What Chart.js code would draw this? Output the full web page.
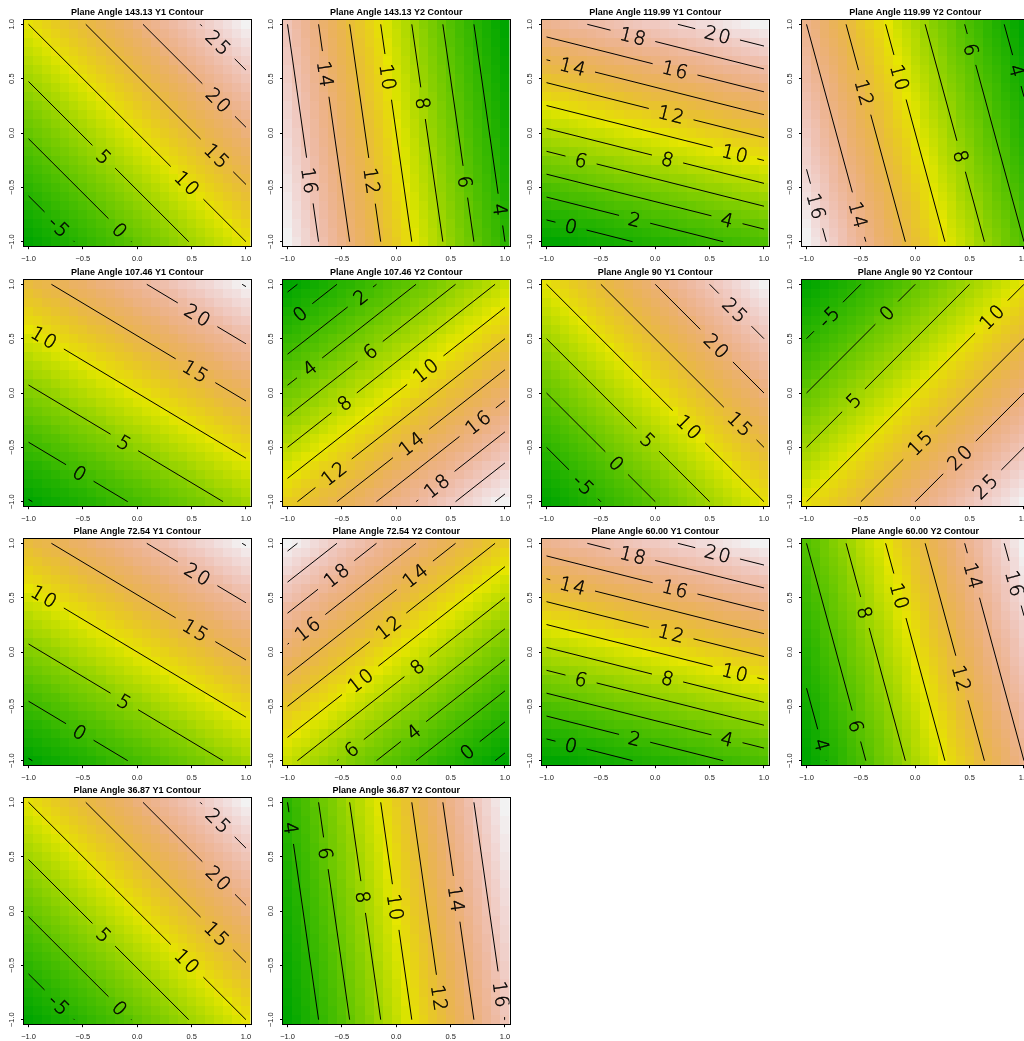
<!DOCTYPE html>
<html>
<head>
<meta charset="utf-8">
<script src="https://cdn.jsdelivr.net/npm/chart.js@4/dist/chart.umd.min.js"></script>
<style>
  html, body { margin: 0; padding: 0; background: #ffffff; }
  #wrap { position: relative; width: 1024px; height: 1041px; overflow: hidden; background: #ffffff; }
  #wrap canvas { position: absolute; }
</style>
</head>
<body>
<div id="wrap"></div>
<script>
// ---- data -----------------------------------------------------------------
const titles = [
  'Plane Angle 143.13 Y1 Contour', 'Plane Angle 143.13 Y2 Contour',
  'Plane Angle 119.99 Y1 Contour', 'Plane Angle 119.99 Y2 Contour',
  'Plane Angle 107.46 Y1 Contour', 'Plane Angle 107.46 Y2 Contour',
  'Plane Angle 90 Y1 Contour',     'Plane Angle 90 Y2 Contour',
  'Plane Angle 72.54 Y1 Contour',  'Plane Angle 72.54 Y2 Contour',
  'Plane Angle 60.00 Y1 Contour',  'Plane Angle 60.00 Y2 Contour',
  'Plane Angle 36.87 Y1 Contour',  'Plane Angle 36.87 Y2 Contour'
];

// each response surface is a plane: z = intercept + slopeX * x + slopeY * y
const intercept = [10, 10, 10, 10, 10, 10, 10, 10, 10, 10, 10, 10, 10, 10];
const slopeX    = [9.5, -7, 2.4, -5.5, 5.7, 5.5, 10, 10, 5.7, -5.5, 2.4, 5.5, 9.5, 7];
const slopeY    = [9.5, -1, 9.5, -1.5, 9.5, -7, 10, -10, 9.5, 7, 9.5, 1.5, 9.5, 1];

// contour levels drawn in each panel
const contourLevels = [
  [-5, 0, 5, 10, 15, 20, 25],
  [4, 6, 8, 10, 12, 14, 16],
  [0, 2, 4, 6, 8, 10, 12, 14, 16, 18, 20],
  [4, 6, 8, 10, 12, 14, 16],
  [-5, 0, 5, 10, 15, 20, 25],
  [-2, 0, 2, 4, 6, 8, 10, 12, 14, 16, 18, 20, 22],
  [-5, 0, 5, 10, 15, 20, 25],
  [-5, 0, 5, 10, 15, 20, 25],
  [-5, 0, 5, 10, 15, 20, 25],
  [-2, 0, 2, 4, 6, 8, 10, 12, 14, 16, 18, 20, 22],
  [0, 2, 4, 6, 8, 10, 12, 14, 16, 18, 20],
  [4, 6, 8, 10, 12, 14, 16],
  [-5, 0, 5, 10, 15, 20, 25],
  [4, 6, 8, 10, 12, 14, 16]
];

// where each contour carries its label: [level, x, y] (snapped onto the line)
const labelSpots = [
  [[25, 0.728, 0.815], [20, 0.75, 0.305], [15, 0.735, -0.204], [10, 0.457, -0.46], [5, -0.309, -0.22], [0, -0.167, -0.9], [-5, -0.73, -0.87]],
  [[16, -0.84, -0.444], [14, -0.654, 0.543], [12, -0.253, -0.444], [10, -0.105, 0.512], [8, 0.231, 0.272], [6, 0.617, -0.451], [4, 0.944, -0.707]],
  [[18, -0.207, 0.889], [20, 0.571, 0.898], [14, -0.762, 0.605], [16, 0.179, 0.574], [12, 0.142, 0.157], [10, 0.728, -0.204], [6, -0.685, -0.259], [8, 0.108, -0.259], [2, -0.191, -0.799], [4, 0.657, -0.809], [0, -0.778, -0.87]],
  [[16, -0.923, -0.676], [14, -0.529, -0.753], [12, -0.468, 0.373], [10, -0.145, 0.512], [8, 0.425, -0.213], [6, 0.502, 0.765], [4, 0.932, 0.574]],
  [[20, 0.537, 0.69], [15, 0.509, 0.16], [10, -0.848, 0.53], [5, -0.11, -0.44], [0, -0.507, -0.70]],
  [[0, -0.886, 0.728], [2, -0.33, 0.883], [4, -0.793, 0.225], [6, -0.238, 0.38], [8, -0.485, -0.083], [10, 0.272, 0.204], [12, -0.577, -0.738], [14, 0.133, -0.46], [16, 0.741, -0.259], [18, 0.364, -0.846]],
  [[25, 0.732, 0.762], [20, 0.557, 0.429], [15, 0.76, -0.303], [10, 0.29, -0.331], [5, -0.079, -0.442], [0, -0.356, -0.646], [-5, -0.651, -0.831]],
  [[-5, -0.809, 0.713], [0, -0.268, 0.744], [10, 0.689, 0.713], [5, -0.577, -0.059], [15, 0.04, -0.46], [20, 0.397, -0.583], [25, 0.629, -0.846]],
  [[20, 0.537, 0.69], [15, 0.509, 0.16], [10, -0.848, 0.53], [5, -0.11, -0.44], [0, -0.507, -0.70]],
  [[18, -0.556, 0.713], [16, -0.824, 0.219], [14, 0.164, 0.713], [12, -0.068, 0.219], [10, -0.352, -0.235], [8, 0.179, -0.12], [6, -0.407, -0.907], [4, 0.164, -0.738], [0, 0.657, -0.923]],
  [[18, -0.207, 0.889], [20, 0.571, 0.898], [14, -0.762, 0.605], [16, 0.179, 0.574], [12, 0.142, 0.157], [10, 0.728, -0.204], [6, -0.685, -0.259], [8, 0.108, -0.259], [2, -0.191, -0.799], [4, 0.657, -0.809], [0, -0.778, -0.87]],
  [[4, -0.886, -0.861], [6, -0.577, -0.691], [8, -0.484, 0.358], [10, -0.16, 0.512], [12, 0.411, -0.244], [14, 0.512, 0.698], [16, 0.873, 0.62]],
  [[25, 0.728, 0.815], [20, 0.75, 0.305], [15, 0.735, -0.204], [10, 0.457, -0.46], [5, -0.309, -0.22], [0, -0.167, -0.9], [-5, -0.73, -0.87]],
  [[4, -0.994, 0.759], [6, -0.67, 0.528], [8, -0.315, 0.127], [10, -0.022, 0.034], [14, 0.549, 0.111], [12, 0.38, -0.8], [16, 0.944, -0.769]]
];

const axisTicks = [-1, -0.5, 0, 0.5, 1];
const GRID_N = 25;            // image cells per side
const COLOR_STEPS = 100;      // terrain palette length

// ---- layout ---------------------------------------------------------------
const COLS = 4;
const panelLeft = [0, 259, 518, 778];
const panelTop  = [0, 260, 519, 778];
const CANVAS_W = 259, CANVAS_H = 262;
const HALF_CELL = 1 / (GRID_N - 1);
const LIMIT = 1 + HALF_CELL;
const LABEL_SIZE = 19;
const LABEL_FONT = `300 ${LABEL_SIZE}px "DejaVu Sans", Inter, Roboto, sans-serif`;
const LABEL_SPACING = 2;
const LABEL_PAD = 10;
const PX_PER_UNIT = 226.5 / (2 * LIMIT);

const measureCtx = document.createElement('canvas').getContext('2d');
measureCtx.font = LABEL_FONT;
measureCtx.letterSpacing = LABEL_SPACING + 'px';
function labelWidth(text) {
  return measureCtx.measureText(text).width - LABEL_SPACING;
}

// terrain.colors-style palette
function hsvToRgb(h, s, v) {
  const i = Math.floor(h * 6), f = h * 6 - i;
  const p = v * (1 - s), q = v * (1 - f * s), t = v * (1 - (1 - f) * s);
  let r, g, b;
  switch (((i % 6) + 6) % 6) {
    case 0: r = v; g = t; b = p; break;
    case 1: r = q; g = v; b = p; break;
    case 2: r = p; g = v; b = t; break;
    case 3: r = p; g = q; b = v; break;
    case 4: r = t; g = p; b = v; break;
    default: r = v; g = p; b = q;
  }
  return `rgb(${Math.round(r * 255)},${Math.round(g * 255)},${Math.round(b * 255)})`;
}
const palette = (() => {
  const n = COLOR_STEPS, k = Math.floor(n / 2), out = [];
  for (let i = 0; i < k; i++) {
    const u = i / (k - 1);
    out.push(hsvToRgb(4 / 12 - u * 2 / 12, 1, 0.65 + u * 0.25));
  }
  const m = n - k + 1;
  for (let i = 1; i < m; i++) {
    const u = i / (m - 1);
    out.push(hsvToRgb(2 / 12 - u * 2 / 12, 1 - u, 0.9 + u * 0.05));
  }
  return out;
})();

function planeValue(p, x, y) { return intercept[p] + slopeX[p] * x + slopeY[p] * y; }

// straight contour b*x + c*y = k clipped to the data square, with a gap for its label
function contourSegments(p, level) {
  const b = slopeX[p], c = slopeY[p], k = level - intercept[p];
  const nn = b * b + c * c, nl = Math.sqrt(nn);
  const ux = -c / nl, uy = b / nl;
  const bx = b * k / nn, by = c * k / nn;
  const ss = [];
  const eps = 1e-9;
  if (Math.abs(c) > eps) for (const x of [-1, 1]) {
    const y = (k - b * x) / c;
    if (y >= -1 - eps && y <= 1 + eps) ss.push((x - bx) * ux + (y - by) * uy);
  }
  if (Math.abs(b) > eps) for (const y of [-1, 1]) {
    const x = (k - c * y) / b;
    if (x >= -1 - eps && x <= 1 + eps) ss.push((x - bx) * ux + (y - by) * uy);
  }
  if (ss.length < 2) return { pieces: [], label: null };
  const s0 = Math.min(...ss), s1 = Math.max(...ss);
  if (s1 - s0 < 1e-4) return { pieces: [], label: null };
  const spot = labelSpots[p].find(d => d[0] === level);
  const pt = s => ({ x: bx + s * ux, y: by + s * uy });
  if (!spot) return { pieces: [[pt(s0), pt(s1)]], label: null };
  const sl = (spot[1] - bx) * ux + (spot[2] - by) * uy;
  const half = (labelWidth(String(level)) / 2 + LABEL_PAD) / PX_PER_UNIT;
  const pieces = [];
  if (sl - half > s0) pieces.push([pt(s0), pt(Math.min(s1, sl - half))]);
  if (sl + half < s1) pieces.push([pt(Math.max(s0, sl + half)), pt(s1)]);
  return { pieces, label: { text: String(level), at: pt(sl), dir: { x: ux, y: uy } } };
}

function fmtTick(v) {
  const s = Math.abs(v).toFixed(1);
  return v < 0 ? '\u2212' + s : s;
}

function surfacePlugin(p, labels) {
  return {
    id: 'surface' + p,
    beforeDatasetsDraw(chart) {
      const { ctx, chartArea: a, scales: { x: sx, y: sy } } = chart;
      const step = 2 / (GRID_N - 1);
      let zmin = Infinity, zmax = -Infinity;
      const z = [];
      for (let i = 0; i < GRID_N; i++) {
        z.push([]);
        for (let j = 0; j < GRID_N; j++) {
          const v = planeValue(p, -1 + i * step, -1 + j * step);
          z[i].push(v);
          zmin = Math.min(zmin, v); zmax = Math.max(zmax, v);
        }
      }
      ctx.save();
      ctx.beginPath();
      ctx.rect(a.left, a.top, a.right - a.left, a.bottom - a.top);
      ctx.clip();
      for (let i = 0; i < GRID_N; i++) {
        const xc = -1 + i * step;
        const x0 = Math.round(sx.getPixelForValue(xc - step / 2));
        const x1 = Math.round(sx.getPixelForValue(xc + step / 2));
        for (let j = 0; j < GRID_N; j++) {
          const yc = -1 + j * step;
          const y0 = Math.round(sy.getPixelForValue(yc + step / 2));
          const y1 = Math.round(sy.getPixelForValue(yc - step / 2));
          let idx = Math.floor((z[i][j] - zmin) / (zmax - zmin) * COLOR_STEPS);
          idx = Math.max(0, Math.min(COLOR_STEPS - 1, idx));
          ctx.fillStyle = palette[idx];
          ctx.fillRect(x0, y0, x1 - x0, y1 - y0);
        }
      }
      ctx.restore();
    },
    afterDatasetsDraw(chart) {
      const { ctx, chartArea: a, scales: { x: sx, y: sy } } = chart;
      ctx.save();
      ctx.beginPath();
      ctx.rect(a.left, a.top, a.right - a.left, a.bottom - a.top);
      ctx.clip();
      ctx.font = LABEL_FONT;
      ctx.letterSpacing = LABEL_SPACING + 'px';
      ctx.fillStyle = '#000';
      ctx.strokeStyle = '#000';
      ctx.lineWidth = 0.45;
      ctx.textAlign = 'left';
      ctx.textBaseline = 'alphabetic';
      for (const lb of labels) {
        const px = sx.getPixelForValue(lb.at.x), py = sy.getPixelForValue(lb.at.y);
        const qx = sx.getPixelForValue(lb.at.x + lb.dir.x * 0.1), qy = sy.getPixelForValue(lb.at.y + lb.dir.y * 0.1);
        let ang = Math.atan2(qy - py, qx - px);
        if (ang > Math.PI / 2) ang -= Math.PI;
        if (ang <= -Math.PI / 2) ang += Math.PI;
        ctx.save();
        ctx.translate(px, py);
        ctx.rotate(ang);
        const tx = -labelWidth(lb.text) / 2, ty = LABEL_SIZE * 0.36;
        ctx.fillText(lb.text, tx, ty);
        ctx.strokeText(lb.text, tx, ty);
        ctx.restore();
      }
      ctx.restore();
      // plot frame
      ctx.save();
      ctx.strokeStyle = '#000';
      ctx.lineWidth = 1;
      ctx.strokeRect(Math.round(a.left) - 0.5, Math.round(a.top) - 0.5,
                     Math.round(a.right - a.left) + 1, Math.round(a.bottom - a.top) + 1);
      ctx.restore();
    }
  };
}

const tickFont = { family: '"Liberation Sans", Arial, sans-serif', size: 7.5 };
function axisOptions(vertical) {
  return {
    type: 'linear',
    min: -LIMIT,
    max: LIMIT,
    afterBuildTicks: s => { s.ticks = axisTicks.map(v => ({ value: v })); },
    afterFit: s => { if (vertical) s.width = 24; else s.height = 15.8; },
    grid: { display: true, drawOnChartArea: false, drawTicks: true, tickLength: 3, color: '#000', lineWidth: 1 },
    border: { display: true, color: '#000', width: 1 },
    ticks: vertical
      ? { font: tickFont, color: '#222', minRotation: 90, maxRotation: 90, crossAlign: 'center', padding: 2, autoSkip: false, callback: fmtTick }
      : { font: tickFont, color: '#222', maxRotation: 0, padding: 5, autoSkip: false, callback: fmtTick }
  };
}

const wrap = document.getElementById('wrap');
titles.forEach((title, p) => {
  const canvas = document.createElement('canvas');
  canvas.width = CANVAS_W; canvas.height = CANVAS_H;
  canvas.style.width = CANVAS_W + 'px'; canvas.style.height = CANVAS_H + 'px';
  canvas.style.left = panelLeft[p % COLS] + 'px';
  canvas.style.top = panelTop[Math.floor(p / COLS)] + 'px';
  wrap.appendChild(canvas);

  const datasets = [], labels = [];
  contourLevels[p].forEach(level => {
    const seg = contourSegments(p, level);
    seg.pieces.forEach(piece => datasets.push({
      label: 'z = ' + level,
      data: piece,
      showLine: true,
      borderColor: '#000',
      borderWidth: 1,
      pointRadius: 0,
      fill: false
    }));
    if (seg.label) labels.push(seg.label);
  });

  new Chart(canvas, {
    type: 'scatter',
    data: { datasets },
    options: {
      responsive: false,
      animation: false,
      events: [],
      layout: { padding: { left: 0, right: 8.5, top: 0, bottom: 0 } },
      plugins: {
        legend: { display: false },
        tooltip: { enabled: false },
        title: {
          display: true, text: title, fullSize: false, color: '#000',
          font: { family: '"Liberation Sans", Arial, sans-serif', size: 9, weight: 'bold' },
          padding: { top: 7, bottom: 2 }
        }
      },
      scales: { x: axisOptions(false), y: axisOptions(true) }
    },
    plugins: [surfacePlugin(p, labels)]
  });
});
</script>
</body>
</html>
